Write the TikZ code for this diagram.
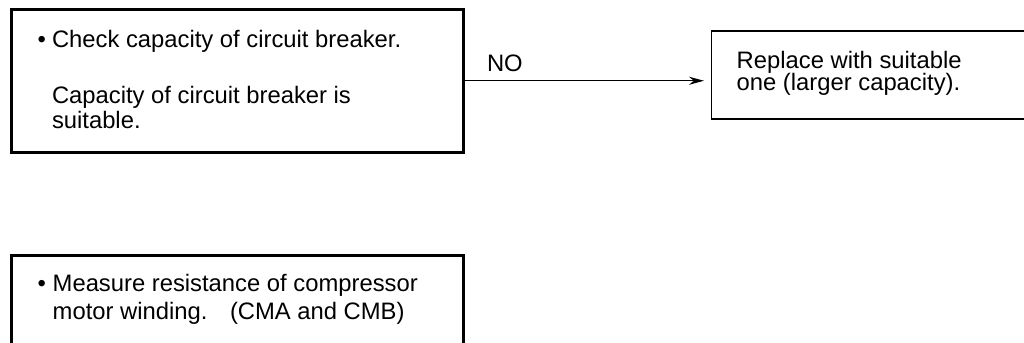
\documentclass[tikz,border=0pt]{standalone}
\usepackage{fontspec}
\setmainfont{Liberation Sans}
\usetikzlibrary{arrows.meta}
\begin{document}
\begin{tikzpicture}[x=1bp,y=-1bp,
  thickbox/.style={draw, line width=3bp, rectangle, inner sep=0pt, outer sep=0pt, anchor=north west},
  thinbox/.style={draw, line width=1.3bp, rectangle, inner sep=0pt, outer sep=0pt, anchor=north west},
  txt/.style={anchor=base west, inner sep=0pt, outer sep=0pt, font=\fontsize{23.8bp}{26bp}\selectfont, text=black},
  conn/.style={line width=1.3bp, -{Stealth[length=15bp,width=8bp]}, shorten >=7.5bp}]
\useasboundingbox (0,0) rectangle (1024,342);
% boxes
\node[thickbox, minimum width=452.5bp, minimum height=143.5bp] (b1) at (11,9) {};
\node[thinbox, minimum width=340bp, minimum height=88bp] (b2) at (711.5,31) {};
\node[thickbox, minimum width=452.5bp, minimum height=120bp] (b3) at (11,255) {};
% texts box 1
\node[txt] (b1bul) at (37.5,47.5) {•};
\node[txt] (b1l1) at (52,47.5) {Check capacity of circuit breaker.};
\node[txt] (b1l2) at (52,103) {Capacity of circuit breaker is};
\node[txt] (b1l3) at (52,128.5) {suitable.};
% texts box 2
\node[txt] (b2l1) at (736.7,68.3) {Replace with suitable};
\node[txt] (b2l2) at (736.7,90.5) {one (larger capacity).};
% texts box 3
\node[txt] (b3bul) at (37.5,291.7) {•};
\node[txt] (b3l1) at (52.7,291.7) {Measure resistance of compressor};
\node[txt] (b3l2) at (52.7,319) {motor winding.};
\node[txt] (b3l3) at (230,319) {(CMA and CMB)};
% connector
\draw[conn] (b1.east) -- (b1.east -| b2.west);
\node[txt] (no) at (487,71.7) {NO};
\end{tikzpicture}
\end{document}
